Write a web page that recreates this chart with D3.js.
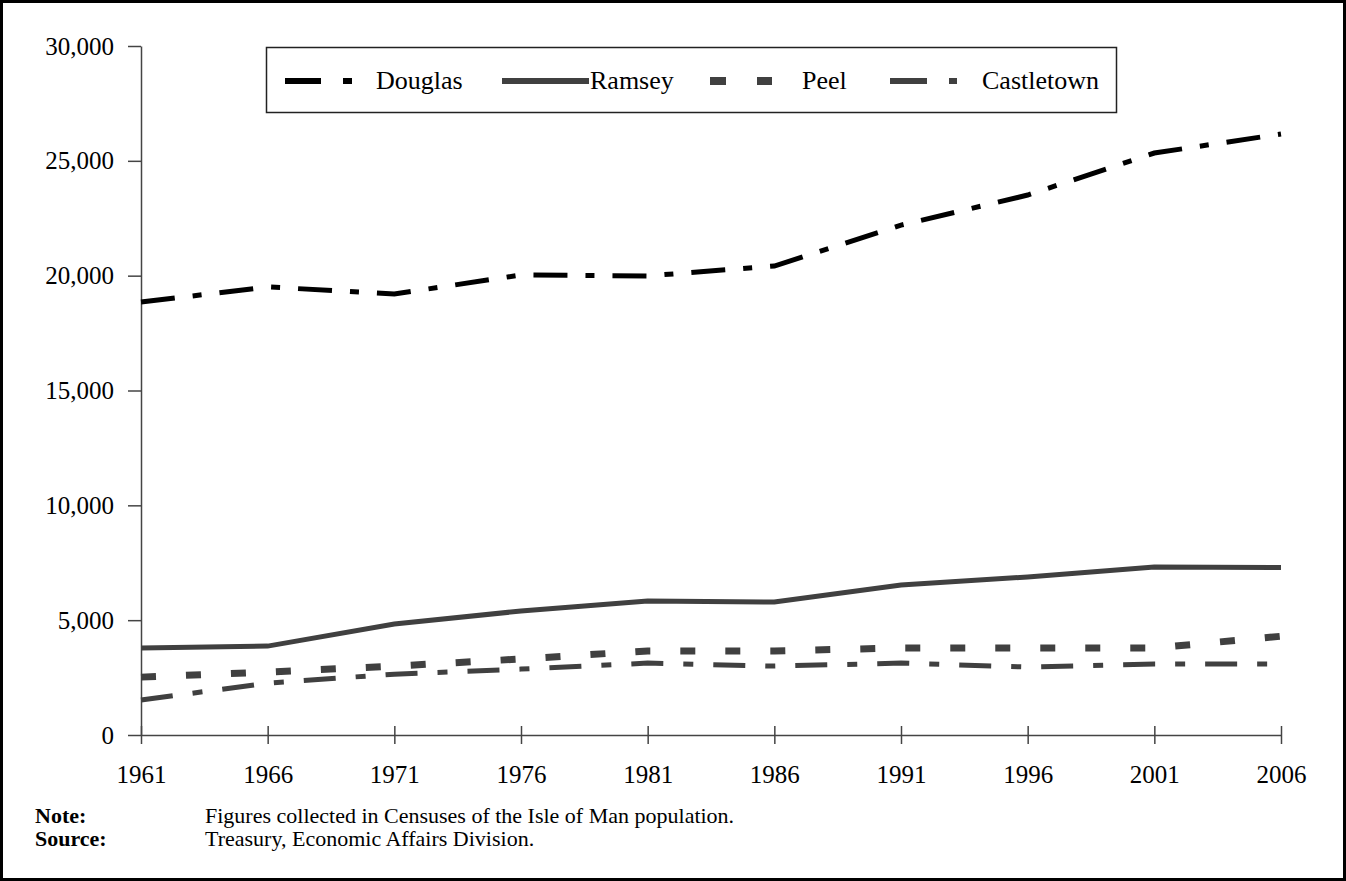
<!DOCTYPE html>
<html>
<head>
<meta charset="utf-8">
<script src="https://cdn.jsdelivr.net/npm/d3@7"></script>
<style>
  body { margin: 0; background: #fff; }
  #chart { width: 1346px; height: 881px; display: block; }
  text { font-family: "Liberation Serif", "Times New Roman", serif; fill: #000; }
</style>
</head>
<body>
<svg id="chart"></svg>
<script>
var years = [1961, 1966, 1971, 1976, 1981, 1986, 1991, 1996, 2001, 2006];
var douglas    = [18850, 19510, 19200, 20030, 19990, 20420, 22200, 23510, 25340, 26170];
var ramsey     = [3790, 3870, 4830, 5400, 5830, 5790, 6530, 6880, 7310, 7290];
var peel       = [2520, 2740, 3000, 3310, 3660, 3660, 3790, 3790, 3790, 4300];
var castletown = [1520, 2260, 2650, 2870, 3130, 3000, 3130, 2960, 3090, 3090];
var seriesNames = ["Douglas", "Ramsey", "Peel", "Castletown"];
var yTicks = [0, 5000, 10000, 15000, 20000, 25000, 30000];
var noteLabels = ["Note:", "Source:"];
var noteTexts = ["Figures collected in Censuses of the Isle of Man population.",
                 "Treasury, Economic Affairs Division."];

var svg = d3.select("#chart"),
    W = 1346, H = 881,
    serif = '"Liberation Serif", "Times New Roman", serif';

var style = {
  "Douglas":    {color: "#000", width: 5, dash: "34,18,9,18"},
  "Ramsey":     {color: "#404040", width: 5, dash: null},
  "Peel":       {color: "#404040", width: 7, dash: "15,30"},
  "Castletown": {color: "#404040", width: 5, dash: "32,20,10,20"}
};

// outer frame
svg.append("rect")
    .attr("x", 1.5).attr("y", 1.5)
    .attr("width", W - 3).attr("height", H - 3)
    .attr("fill", "none").attr("stroke", "#000").attr("stroke-width", 3);

var xScale = d3.scaleLinear().domain([1961, 2006]).range([141, 1281]),
    yScale = d3.scaleLinear().domain([0, 30000]).range([735, 46]);

var fmt = d3.format(",");

// y axis
var yAxis = svg.append("g")
    .attr("transform", "translate(141,0)")
    .attr("font-family", serif)
    .call(d3.axisLeft(yScale).tickValues(yTicks).tickFormat(fmt).tickSizeInner(13).tickSizeOuter(0).tickPadding(14));
yAxis.select(".domain").attr("stroke", "#444").attr("stroke-width", 1.5);
yAxis.selectAll(".tick line").attr("stroke", "#444").attr("stroke-width", 1.5);
yAxis.selectAll(".tick text").style("font-size", "25px").attr("fill", "#000");

// x axis
var xAxis = svg.append("g")
    .attr("transform", "translate(0,735)")
    .attr("font-family", serif)
    .call(d3.axisBottom(xScale).tickValues(years).tickFormat(d3.format("d")).tickSizeInner(0).tickSizeOuter(0).tickPadding(30));
xAxis.select(".domain").attr("stroke", "#444").attr("stroke-width", 1.5);
xAxis.selectAll(".tick line").attr("stroke", "#444").attr("stroke-width", 1.5)
    .attr("y1", -9).attr("y2", 9);
xAxis.selectAll(".tick text").style("font-size", "25px").attr("fill", "#000");

// lines
var seriesData = {"Douglas": douglas, "Ramsey": ramsey, "Peel": peel, "Castletown": castletown};

var line = d3.line()
    .x(function(d, i) { return xScale(years[i]); })
    .y(function(d) { return yScale(d); });

seriesNames.slice().reverse().forEach(function(name) {
  var s = style[name];
  svg.append("path")
      .attr("d", line(seriesData[name]))
      .attr("fill", "none")
      .attr("stroke", s.color)
      .attr("stroke-width", s.width)
      .attr("stroke-dasharray", s.dash);
});

// legend
var legend = svg.append("g");
legend.append("rect")
    .attr("x", 266.5).attr("y", 47.5)
    .attr("width", 850).attr("height", 65)
    .attr("fill", "#fff").attr("stroke", "#222").attr("stroke-width", 1.5);

var legendPos = [
  {x1: 285, x2: 353, tx: 376},
  {x1: 502, x2: 589, tx: 590},
  {x1: 710, x2: 772, tx: 802},
  {x1: 890, x2: 957, tx: 982}
];
var legendDash = {
  "Douglas": "36,22,9,100",
  "Ramsey": null,
  "Peel": "16,31,16,100",
  "Castletown": "37,22,8,100"
};

seriesNames.forEach(function(name, i) {
  var s = style[name], p = legendPos[i];
  legend.append("line")
      .attr("x1", p.x1).attr("x2", p.x2)
      .attr("y1", 81).attr("y2", 81)
      .attr("stroke", s.color)
      .attr("stroke-width", s.width + 1)
      .attr("stroke-dasharray", legendDash[name]);
  legend.append("text")
      .attr("x", p.tx).attr("y", 89)
      .style("font-family", serif)
      .style("font-size", "26px")
      .text(name);
});

// notes
noteLabels.forEach(function(label, i) {
  svg.append("text")
      .attr("x", 35).attr("y", 823 + i * 23)
      .style("font-family", serif)
      .style("font-size", "22px").style("font-weight", "bold")
      .text(label);
  svg.append("text")
      .attr("x", 205).attr("y", 823 + i * 23)
      .style("font-family", serif)
      .style("font-size", "22px")
      .text(noteTexts[i]);
});
</script>
</body>
</html>
